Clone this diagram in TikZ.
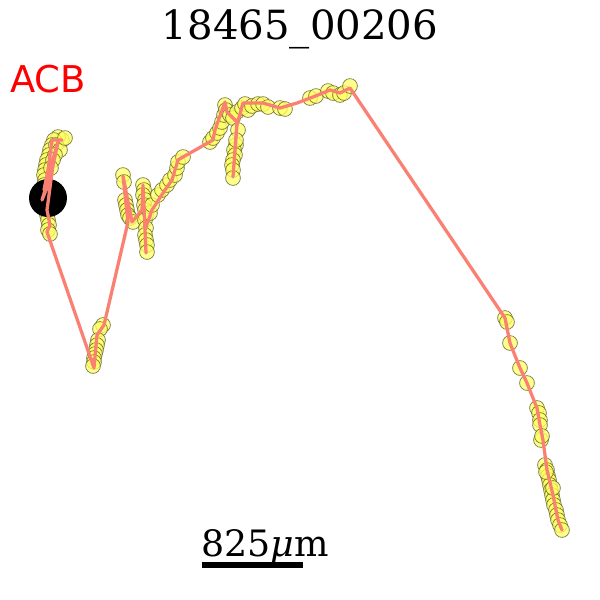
\documentclass[tikz,border=0pt]{standalone}
\usepackage{fontspec}
\setmainfont{DejaVu Serif}
\newfontfamily\labelfont{DejaVu Sans}
\usepackage{tikz}
\usetikzlibrary{calc, positioning}
\definecolor{trackline}{RGB}{250,128,114}
\definecolor{spotfill}{RGB}{255,255,100}
\definecolor{spotedge}{RGB}{90,90,35}

\begin{document}
\begin{tikzpicture}[x=0.02cm, y=-0.02cm,
    spot/.style={fill=spotfill, fill opacity=0.75, draw=spotedge, draw opacity=0.8, line width=0.4pt},
    track/.style={draw=trackline, line width=1.85pt, line join=round, line cap=round},
    titletext/.style={font=\fontsize{22.9}{27}\selectfont, anchor=base},
    tagtext/.style={font=\labelfont\fontsize{21}{25}\selectfont, text=red, anchor=base west, inner sep=0pt},
    scaletext/.style={font=\fontsize{20.7}{24}\selectfont, anchor=base}]
            \useasboundingbox (0,0) rectangle (600,600);
            % spots
            \foreach \p in {(62,140),(58,137),(54,140),(52,145),(50,150),(49,155),(47,160),(46,165),(45,170),(44,175),
                (45,180),(44,185),(46,190),(45,195),(47,200),(46,205),(48,210),(47,215),(48,220),(49,225),(48,230),(50,234),
                (56,145),(60,150),(55,155),(53,160),(51,168),(65,138),
                (103,325),(100,329),(98,340),(97,345),(96,350),(95,354),(94,358),(94,362),(93,366),
                (123,175),(124,182),(125,200),(126,205),(127,210),(128,215),(130,218),(133,222),
                (143,185),(144,190),(143,195),(145,200),(144,205),(145,210),(146,215),(145,220),(146,228),(145,235),
                (146,240),(147,245),(147,252),(150,213),(152,205),
                (158,195),(162,190),(167,185),(170,180),(175,175),(177,168),(178,162),(183,157),
                (210,142),(213,138),(217,133),(220,128),(222,122),(224,115),(225,105),(226,110),(230,115),(233,118),
                (237,112),(242,108),(245,104),(248,110),(252,106),(258,104),(263,104),(268,107),(280,108),(285,109),
                (236,145),(234,150),(235,155),(233,160),(232,165),(233,170),(233,178),(238,130),(236,140),
                (310,98),(316,96),(328,91),(333,93),(340,95),(344,93),(350,86),
                (505,318),(507,322),(510,343),(520,368),(527,383),(537,408),(539,413),(540,420),(540,425),(541,440),
                (542,436),(545,465),(547,470),(548,476),(549,480),(550,485),(551,490),(552,495),(553,500),(554,505),
                (556,510),(557,515),(558,520),(560,525),(562,530),(546,472),(553,488)}
                \path[spot] \p circle (7.4);
            % start marker
            \fill[black] (48,198) circle (19);
            % track
            \draw[track] (62,140) -- (52,140) -- (48,170) -- (44,190) -- (58,142) -- (50,180) -- (42,200) -- (53,165)
                -- (47,210) -- (50,225) -- (47,232) -- (94,368) -- (97,335) -- (104,325) -- (128,222) -- (123,176)
                -- (132,222) -- (142,210) -- (143,185) -- (146,253) -- (145,230) -- (152,210) -- (165,190) -- (172,180)
                -- (178,160) -- (183,157) -- (213,140) -- (215,130) -- (225,102) -- (227,112) -- (237,122) -- (233,177)
                -- (237,125) -- (243,103) -- (263,103) -- (280,108) -- (297,103) -- (313,97) -- (330,90) -- (340,93)
                -- (350,88) -- (505,318) -- (510,343) -- (520,368) -- (527,383) -- (537,408) -- (540,425) -- (543,440)
                -- (547,470) -- (553,495) -- (558,520) -- (562,530);
            % labels
            \node[titletext] (title) at (300,39) {18465\_00206};
            \node[tagtext] (tag) at (10,92) {ACB};
            \coordinate (barL) at (202,565);
            \coordinate (barR) at (303,565);
            \draw[line width=2.9pt] (barL) -- (barR);
            \node[scaletext] (scale) at (265,556) {825{\itshape μ}m};
        \end{tikzpicture}
\end{document}
